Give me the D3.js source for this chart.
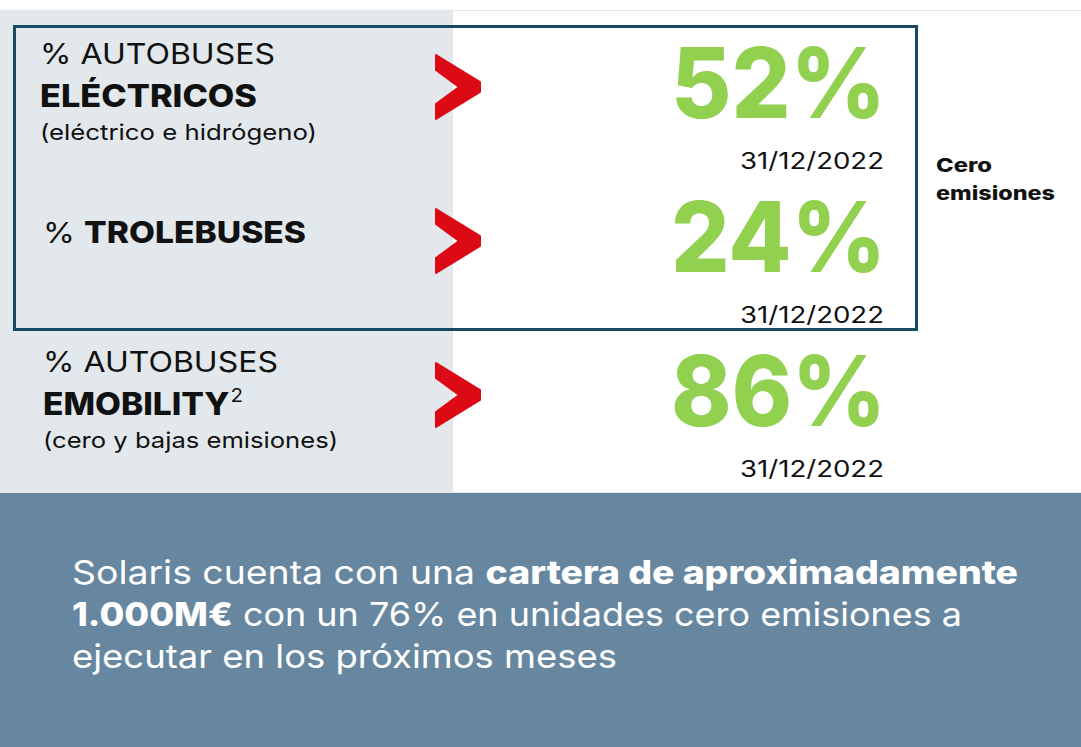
<!DOCTYPE html>
<html lang="es">
<head>
  <meta charset="UTF-8" />
  <title>Solaris cero emisiones</title>
  <script src="https://d3js.org/d3.v7.min.js"></script>
  <style>
    html, body {
      margin: 0;
      background: #ffffff;
    }
    svg {
      display: block;
      font-family: Inter, "Noto Sans", sans-serif;
    }
  </style>
</head>
<body>
  <svg id="chart" width="1081" height="747"></svg>
  <script>
    // data
    const rowTitles = ["% AUTOBUSES", "% ", "% AUTOBUSES"];
    const rowBold = ["ELÉCTRICOS", "TROLEBUSES", "EMOBILITY"];
    const rowSup = ["", "", "2"];
    const rowNotes = ["(eléctrico e hidrógeno)", "", "(cero y bajas emisiones)"];
    const shares = [52, 24, 86];
    const dates = ["31/12/2022", "31/12/2022", "31/12/2022"];
    const groupLabel = ["Cero", "emisiones"];
    const summaryLines = [
      [["Solaris cuenta con una ", false], ["cartera de aproximadamente", true]],
      [["1.000M€", true], [" con un 76% en unidades cero emisiones a", false]],
      [["ejecutar en los próximos meses", false]]
    ];

    const W = 1081, H = 747;
    const svg = d3.select("#chart");

    // the slide font is wider than what we have, so stretch text to the measured widths
    function fit(sel, w) {
      sel.attr("textLength", w).attr("lengthAdjust", "spacingAndGlyphs");
    }

    // background panels
    svg.append("rect").attr("x", 0).attr("y", 10).attr("width", 452).attr("height", 483)
      .attr("fill", "#e2e8eb");
    svg.append("rect").attr("x", 452.5).attr("y", 10.5).attr("width", 640).attr("height", 482)
      .attr("fill", "#ffffff").attr("stroke", "#dfe6ec");
    svg.append("rect").attr("x", 0).attr("y", 493).attr("width", W).attr("height", H - 493)
      .attr("fill", "#66879f");

    // rows
    const rowY = d3.scalePoint().domain(d3.range(shares.length)).range([87, 395]);
    const fmt = d => d + "%";
    const labelX = [40, 43, 43];

    const rows = svg.selectAll("g.row")
      .data(shares.map((v, i) => ({ i, v })))
      .join("g")
      .attr("class", "row")
      .attr("transform", d => `translate(0,${rowY(d.i)})`);

    // left labels
    const hasNote = d => rowNotes[d.i] !== "";
    const t1 = rows.append("text")
      .attr("x", d => labelX[d.i])
      .attr("y", d => hasNote(d) ? -23 : 2)
      .attr("font-size", 29)
      .attr("fill", "#111");
    t1.append("tspan").text(d => rowTitles[d.i]);
    t1.filter(d => !hasNote(d)).append("tspan")
      .attr("font-weight", 800)
      .attr("font-size", 30)
      .text(d => rowBold[d.i]);
    t1.each(function (d) { fit(d3.select(this), hasNote(d) ? 235 : 263); });

    const t2 = rows.filter(d => hasNote(d)).append("text")
      .attr("x", d => labelX[d.i])
      .attr("y", 20)
      .attr("font-size", 31)
      .attr("font-weight", 800)
      .attr("fill", "#111");
    t2.append("tspan").text(d => rowBold[d.i]);
    t2.append("tspan")
      .attr("font-size", 19)
      .attr("font-weight", 400)
      .attr("dx", 1)
      .attr("dy", -13)
      .text(d => rowSup[d.i]);
    t2.each(function (d) { fit(d3.select(this), d.i === 0 ? 217 : 200); });

    rows.filter(d => hasNote(d)).append("text")
      .attr("x", d => labelX[d.i])
      .attr("y", 53)
      .attr("font-size", 22)
      .attr("fill", "#111")
      .text(d => rowNotes[d.i])
      .each(function (d) { fit(d3.select(this), d.i === 0 ? 277 : 295); });

    // red chevrons
    const chev = [[0, 0], [44, 27], [44, 37], [0, 64], [0, 49], [23, 32], [0, 15]];
    rows.append("path")
      .attr("d", d3.line().x(p => 436 + p[0]).y(p => p[1] - 32)(chev) + "Z")
      .attr("fill", "#dc0a14")
      .attr("stroke", "#dc0a14")
      .attr("stroke-width", 2)
      .attr("stroke-linejoin", "round");

    // big numbers
    rows.append("text")
      .attr("x", 886)
      .attr("y", 31)
      .attr("text-anchor", "end")
      .attr("font-size", 97)
      .attr("font-weight", 800)
      .attr("fill", "#92d050")
      .text(d => fmt(d.v))
      .call(fit, 215);

    rows.append("text")
      .attr("x", 884)
      .attr("y", 82)
      .attr("text-anchor", "end")
      .attr("font-size", 23)
      .attr("fill", "#111")
      .text(d => dates[d.i])
      .call(fit, 144);

    // framed group
    svg.append("rect")
      .attr("x", 14.5).attr("y", 26.5)
      .attr("width", 902).attr("height", 303)
      .attr("fill", "none")
      .attr("stroke", "#174a60")
      .attr("stroke-width", 3);

    svg.append("g").selectAll("text")
      .data(groupLabel)
      .join("text")
      .attr("x", 936)
      .attr("y", (d, i) => 172 + i * 28)
      .attr("font-size", 19)
      .attr("font-weight", 800)
      .attr("fill", "#111")
      .text(d => d)
      .each(function (d, i) { fit(d3.select(this), i === 0 ? 56 : 119); });

    // summary text
    const sumWidths = [946, 890, 545];
    const sum = svg.append("g").selectAll("text")
      .data(summaryLines)
      .join("text")
      .attr("x", 72)
      .attr("y", (d, i) => 584 + i * 42)
      .attr("font-size", 33)
      .attr("fill", "#ffffff")
      .each(function (d, i) { fit(d3.select(this), sumWidths[i]); });
    sum.selectAll("tspan")
      .data(d => d)
      .join("tspan")
      .attr("font-weight", d => d[1] ? 800 : 400)
      .text(d => d[0]);
  </script>
</body>
</html>
